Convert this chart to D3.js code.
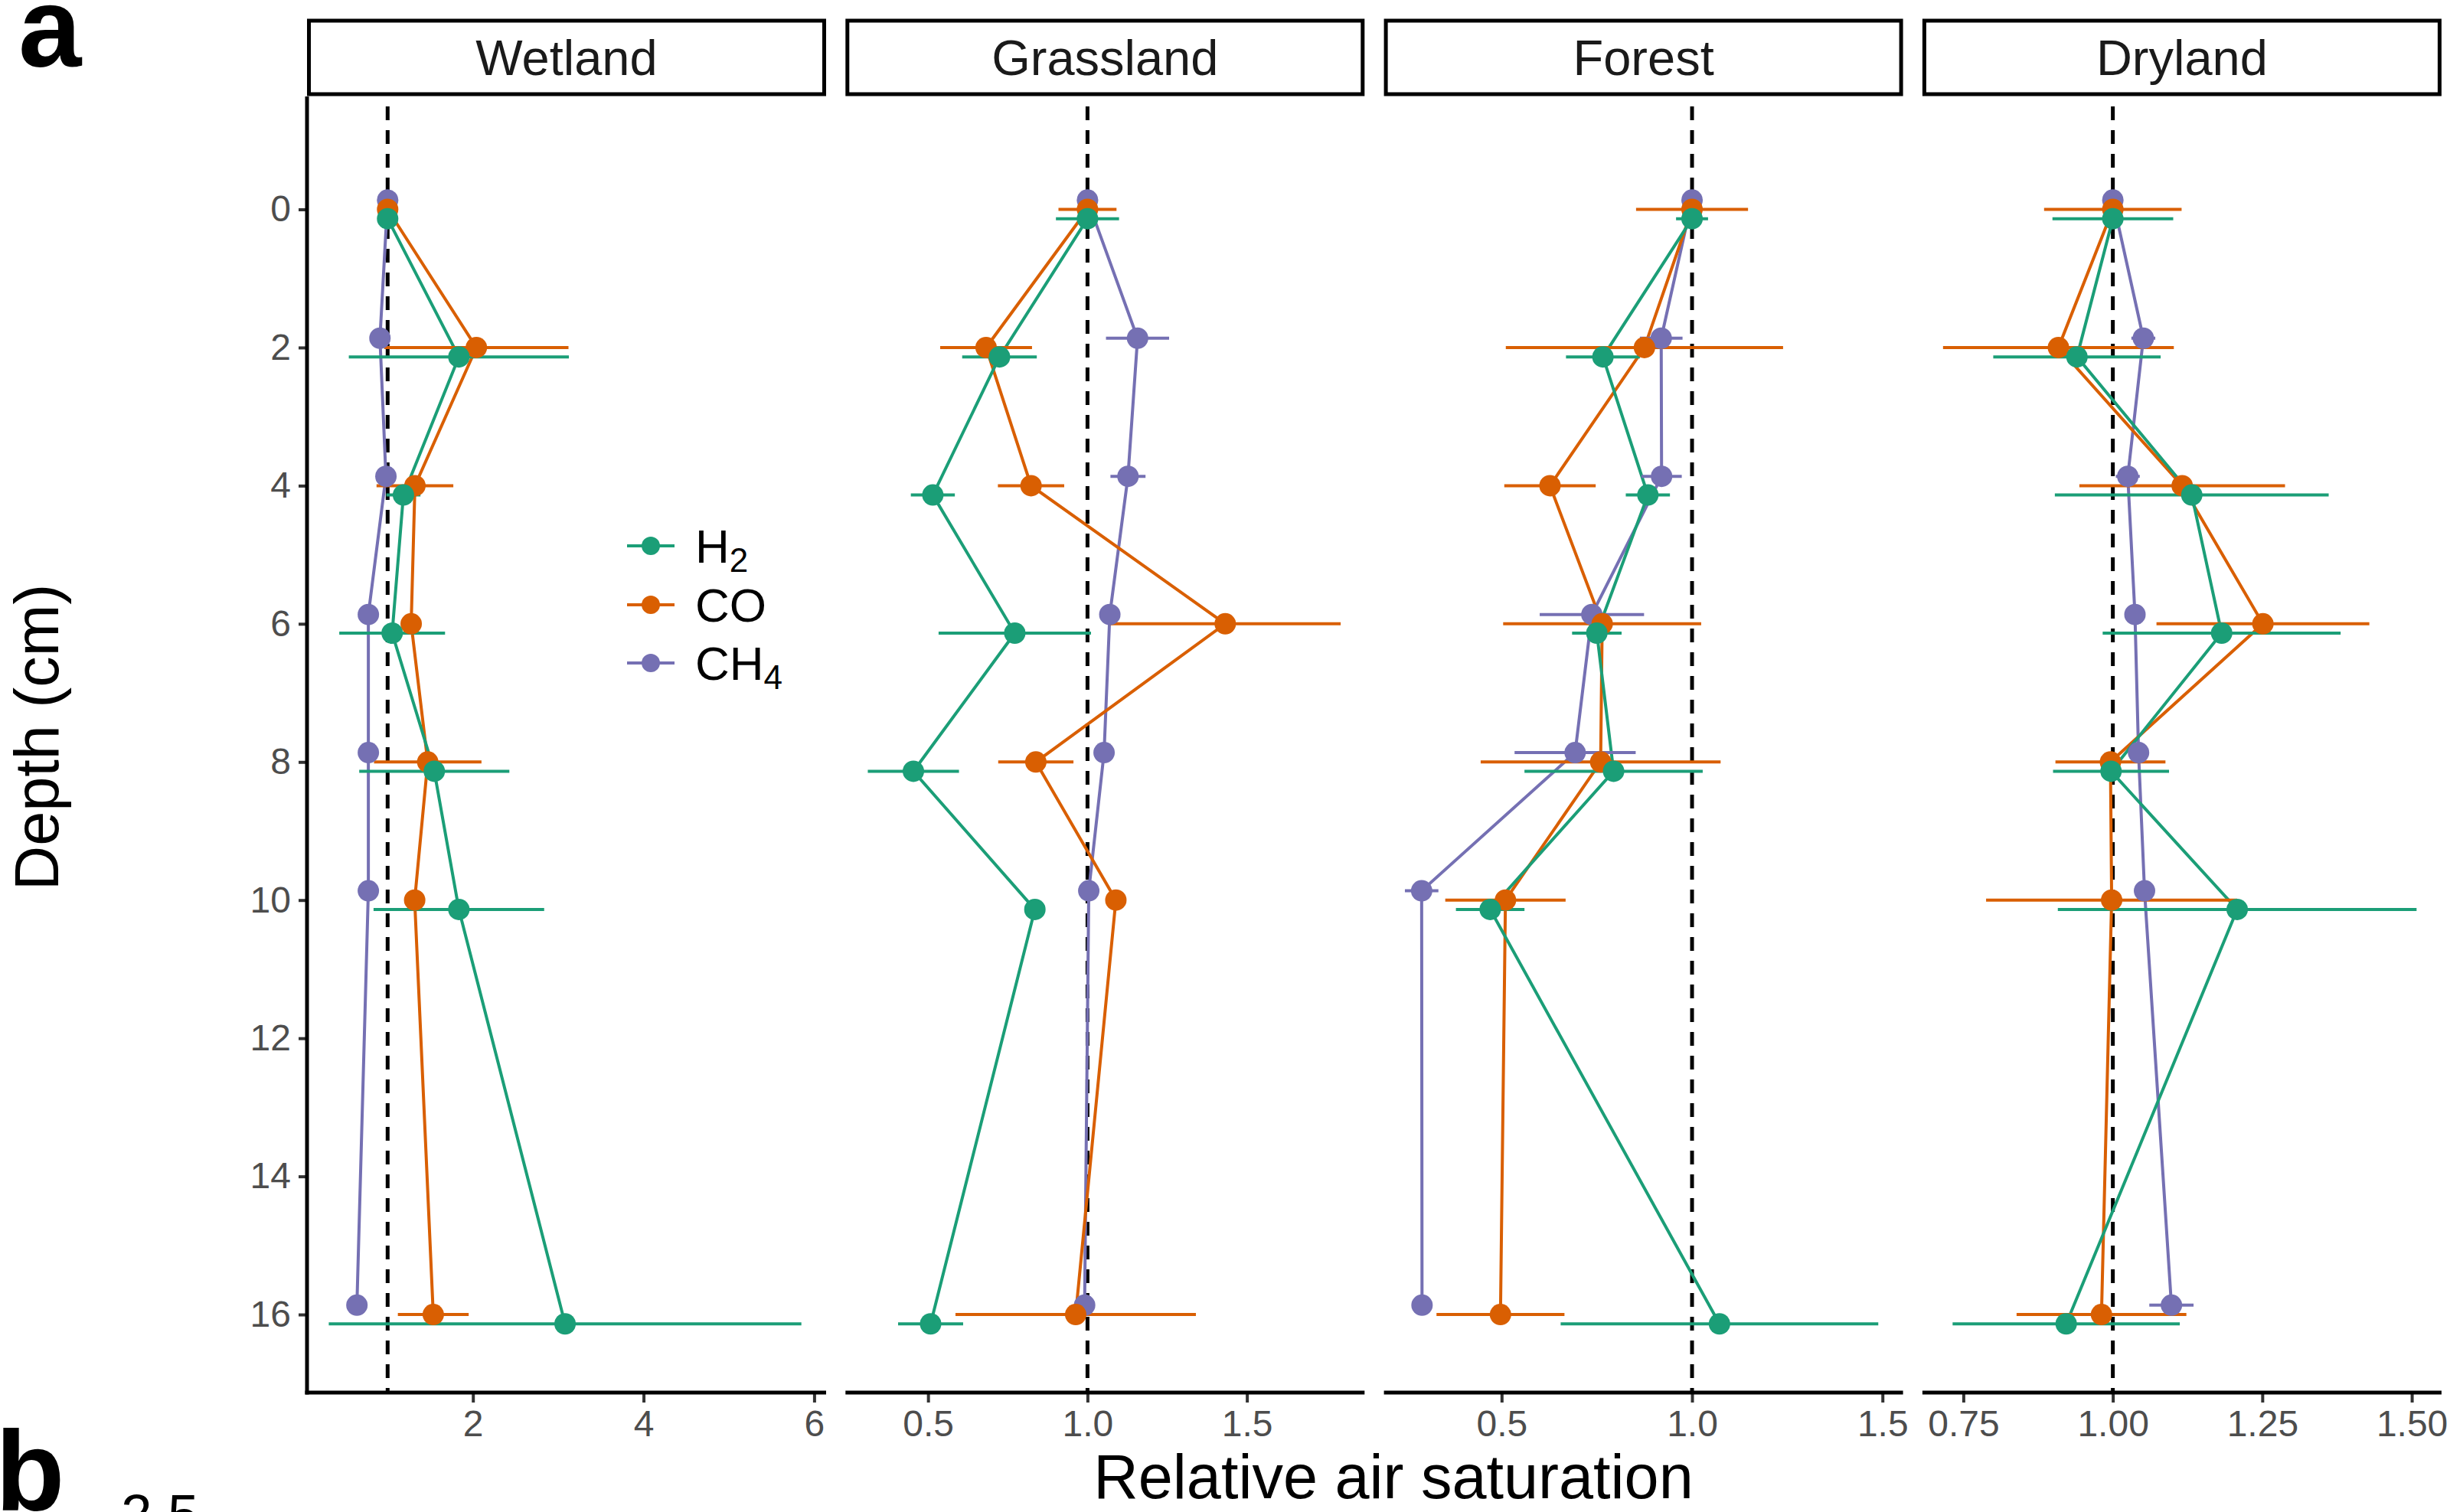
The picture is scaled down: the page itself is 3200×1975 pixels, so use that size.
<!DOCTYPE html>
<html>
<head>
<meta charset="utf-8">
<script src="https://cdn.jsdelivr.net/npm/d3@7"></script>
<style>
  html, body { margin: 0; padding: 0; background: #fff; }
  svg { display: block; }
  text { font-family: "Liberation Sans", Arial, Helvetica, sans-serif; }
</style>
</head>
<body>
<svg id="chart" width="3200" height="1975"></svg>
<script>
// ---------------- DATA ----------------
const depths = [0, 2, 4, 6, 8, 10, 16];
const habitats = ["Wetland", "Grassland", "Forest", "Dryland"];
const gases = ["H2", "CO", "CH4"];
const depthTicks = [0, 2, 4, 6, 8, 10, 12, 14, 16];

// Wetland
const wetland_H2 = [1.0, 1.835, 1.185, 1.053, 1.547, 1.835, 3.08];
const wetland_H2_err = [0, 1.29, 0.2, 0.62, 0.88, 1.0, 2.77];
const wetland_CO = [1.0, 2.04, 1.32, 1.276, 1.47, 1.317, 1.535];
const wetland_CO_err = [0, 1.08, 0.45, 0.08, 0.63, 0, 0.415];
const wetland_CH4 = [1.0, 0.91, 0.98, 0.774, 0.774, 0.774, 0.64];
const wetland_CH4_err = [0, 0, 0, 0, 0, 0, 0];
// Grassland
const grassland_H2 = [1.0, 0.724, 0.515, 0.772, 0.454, 0.835, 0.508];
const grassland_H2_err = [0.099, 0.117, 0.069, 0.239, 0.143, 0, 0.102];
const grassland_CO = [1.0, 0.682, 0.823, 1.432, 0.838, 1.089, 0.963];
const grassland_CO_err = [0.091, 0.144, 0.104, 0.362, 0.118, 0, 0.377];
const grassland_CH4 = [1.0, 1.157, 1.127, 1.07, 1.052, 1.004, 0.991];
const grassland_CH4_err = [0, 0.099, 0.055, 0, 0, 0, 0];
// Forest
const forest_H2 = [1.0, 0.766, 0.884, 0.75, 0.794, 0.47, 1.072];
const forest_H2_err = [0.042, 0.097, 0.058, 0.065, 0.234, 0.09, 0.417];
const forest_CO = [1.0, 0.875, 0.627, 0.764, 0.76, 0.51, 0.497];
const forest_CO_err = [0.147, 0.364, 0.12, 0.26, 0.315, 0.158, 0.168];
const forest_CH4 = [1.0, 0.919, 0.92, 0.737, 0.693, 0.29, 0.291];
const forest_CH4_err = [0, 0.056, 0.053, 0.137, 0.159, 0.044, 0];
// Dryland
const dryland_H2 = [1.0, 0.94, 1.132, 1.182, 0.997, 1.208, 0.922];
const dryland_H2_err = [0.101, 0.14, 0.229, 0.199, 0.097, 0.3, 0.19];
const dryland_CO = [1.0, 0.909, 1.116, 1.251, 0.996, 0.998, 0.981];
const dryland_CO_err = [0.115, 0.193, 0.172, 0.178, 0.092, 0.21, 0.142];
const dryland_CH4 = [1.0, 1.051, 1.025, 1.037, 1.043, 1.053, 1.098];
const dryland_CH4_err = [0, 0.02, 0.02, 0, 0, 0, 0.037];

// x-axis domains and tick labels per panel
const xDomains = [[0.055, 6.14], [0.241, 1.869], [0.191, 1.554], [0.6815, 1.5497]];
const xTicks = [[2, 4, 6], [0.5, 1.0, 1.5], [0.5, 1.0, 1.5], [0.75, 1.00, 1.25, 1.50]];
const xTickLabels = [["2", "4", "6"], ["0.5", "1.0", "1.5"], ["0.5", "1.0", "1.5"], ["0.75", "1.00", "1.25", "1.50"]];

const dataTable = {
  Wetland:  { H2: [wetland_H2, wetland_H2_err], CO: [wetland_CO, wetland_CO_err], CH4: [wetland_CH4, wetland_CH4_err] },
  Grassland:{ H2: [grassland_H2, grassland_H2_err], CO: [grassland_CO, grassland_CO_err], CH4: [grassland_CH4, grassland_CH4_err] },
  Forest:   { H2: [forest_H2, forest_H2_err], CO: [forest_CO, forest_CO_err], CH4: [forest_CH4, forest_CH4_err] },
  Dryland:  { H2: [dryland_H2, dryland_H2_err], CO: [dryland_CO, dryland_CO_err], CH4: [dryland_CH4, dryland_CH4_err] }
};

// ---------------- LAYOUT / STYLE ----------------
const colors = { H2: "#1B9E77", CO: "#D95F02", CH4: "#7570B3" };
const dodge = { H2: 0.135, CO: 0, CH4: -0.135 };
const drawOrder = ["CH4", "CO", "H2"];

const panelLeft0 = 401, panelW = 678, panelStep = 703.3;
const panelTop = 126, panelBottom = 1819;
const stripTop = 27, stripBottom = 123;
const tickCol = "#333333", labCol = "#4D4D4D";

const svg = d3.select("#chart");

const y = d3.scaleLinear().domain([-1.635, 17.13]).range([panelTop, panelBottom]);

// y axis (only left of first panel)
const yAxisG = svg.append("g").attr("transform", `translate(${panelLeft0},0)`);
yAxisG.call(d3.axisLeft(y).tickValues(depthTicks).tickFormat(d3.format("d")).tickSize(11).tickPadding(10));
yAxisG.select(".domain").remove();
yAxisG.selectAll(".tick line").attr("stroke", tickCol).attr("stroke-width", 4);
yAxisG.selectAll(".tick text").attr("fill", labCol).attr("font-size", 48)
  .style("font-family", "'Liberation Sans', Arial, sans-serif");
svg.append("line").attr("x1", panelLeft0).attr("x2", panelLeft0)
  .attr("y1", panelTop).attr("y2", panelBottom + 2.5)
  .attr("stroke", "#000").attr("stroke-width", 5);

habitats.forEach((hab, i) => {
  const left = panelLeft0 + i * panelStep;
  const x = d3.scaleLinear().domain(xDomains[i]).range([left, left + panelW]);
  const g = svg.append("g");

  // strip
  g.append("rect").attr("x", left + 2.5).attr("y", stripTop)
    .attr("width", panelW - 5).attr("height", stripBottom - stripTop)
    .attr("fill", "#fff").attr("stroke", "#000").attr("stroke-width", 5);
  g.append("text").attr("x", left + panelW / 2).attr("y", 98)
    .attr("text-anchor", "middle").attr("font-size", 65).attr("fill", "#1a1a1a").text(hab);

  // x axis
  const xAxisG = g.append("g").attr("transform", `translate(0,${panelBottom})`);
  xAxisG.call(d3.axisBottom(x).tickValues(xTicks[i])
    .tickFormat((d, k) => xTickLabels[i][k]).tickSize(13).tickPadding(10));
  xAxisG.select(".domain").remove();
  xAxisG.selectAll(".tick line").attr("stroke", tickCol).attr("stroke-width", 4);
  xAxisG.selectAll(".tick text").attr("fill", labCol).attr("font-size", 48)
    .style("font-family", "'Liberation Sans', Arial, sans-serif");
  g.append("line").attr("x1", i === 0 ? left - 2.5 : left).attr("x2", left + panelW)
    .attr("y1", panelBottom).attr("y2", panelBottom)
    .attr("stroke", "#000").attr("stroke-width", 5);

  // dashed reference line at 1
  g.append("line").attr("x1", x(1)).attr("x2", x(1))
    .attr("y1", panelTop).attr("y2", panelBottom - 2)
    .attr("stroke", "#000").attr("stroke-width", 5)
    .attr("stroke-dasharray", "18,13").attr("stroke-dashoffset", 18);

  const series = drawOrder.map(gas => ({
    gas,
    pts: depths.map((d, k) => ({
      depth: d + dodge[gas],
      v: dataTable[hab][gas][0][k],
      e: dataTable[hab][gas][1][k]
    }))
  }));

  const line = d3.line().x(p => x(p.v)).y(p => y(p.depth));
  series.forEach(s => {
    g.append("path").attr("d", line(s.pts)).attr("fill", "none")
      .attr("stroke", colors[s.gas]).attr("stroke-width", 4);
  });
  series.forEach(s => {
    g.selectAll(null).data(s.pts.filter(p => p.e > 0)).enter().append("line")
      .attr("x1", p => x(p.v - p.e)).attr("x2", p => x(p.v + p.e))
      .attr("y1", p => y(p.depth)).attr("y2", p => y(p.depth))
      .attr("stroke", colors[s.gas]).attr("stroke-width", 4);
  });
  series.forEach(s => {
    g.selectAll(null).data(s.pts).enter().append("circle")
      .attr("cx", p => x(p.v)).attr("cy", p => y(p.depth)).attr("r", 14)
      .attr("fill", colors[s.gas]);
  });
});

// legend
const legendRows = [
  { gas: "H2", main: "H", sub: "2", y: 713 },
  { gas: "CO", main: "CO", sub: "", y: 790 },
  { gas: "CH4", main: "CH", sub: "4", y: 866 }
];
const lg = svg.append("g");
legendRows.forEach(r => {
  lg.append("line").attr("x1", 819).attr("x2", 881).attr("y1", r.y).attr("y2", r.y)
    .attr("stroke", colors[r.gas]).attr("stroke-width", 4);
  lg.append("circle").attr("cx", 850).attr("cy", r.y).attr("r", 12).attr("fill", colors[r.gas]);
  const t = lg.append("text").attr("x", 908).attr("y", r.y + 22).attr("font-size", 62).attr("fill", "#000");
  t.append("tspan").text(r.main);
  if (r.sub) t.append("tspan").attr("font-size", 44).attr("dy", 12).text(r.sub);
});

// axis titles
svg.append("text").attr("x", 1820).attr("y", 1957).attr("text-anchor", "middle")
  .attr("font-size", 81).attr("fill", "#000").text("Relative air saturation");
svg.append("text").attr("transform", "translate(76,963) rotate(-90)").attr("text-anchor", "middle")
  .attr("font-size", 81).attr("fill", "#000").text("Depth (cm)");

// panel labels
svg.append("text").attr("x", 24).attr("y", 87).attr("font-size", 148).attr("font-weight", "bold")
  .attr("fill", "#000").text("a");
svg.append("text").attr("x", -6).attr("y", 1973).attr("font-size", 148).attr("font-weight", "bold")
  .attr("fill", "#000").text("b");
svg.append("text").attr("x", 158).attr("y", 2003).attr("font-size", 73)
  .attr("fill", "#000").text("2.5");
</script>
</body>
</html>
